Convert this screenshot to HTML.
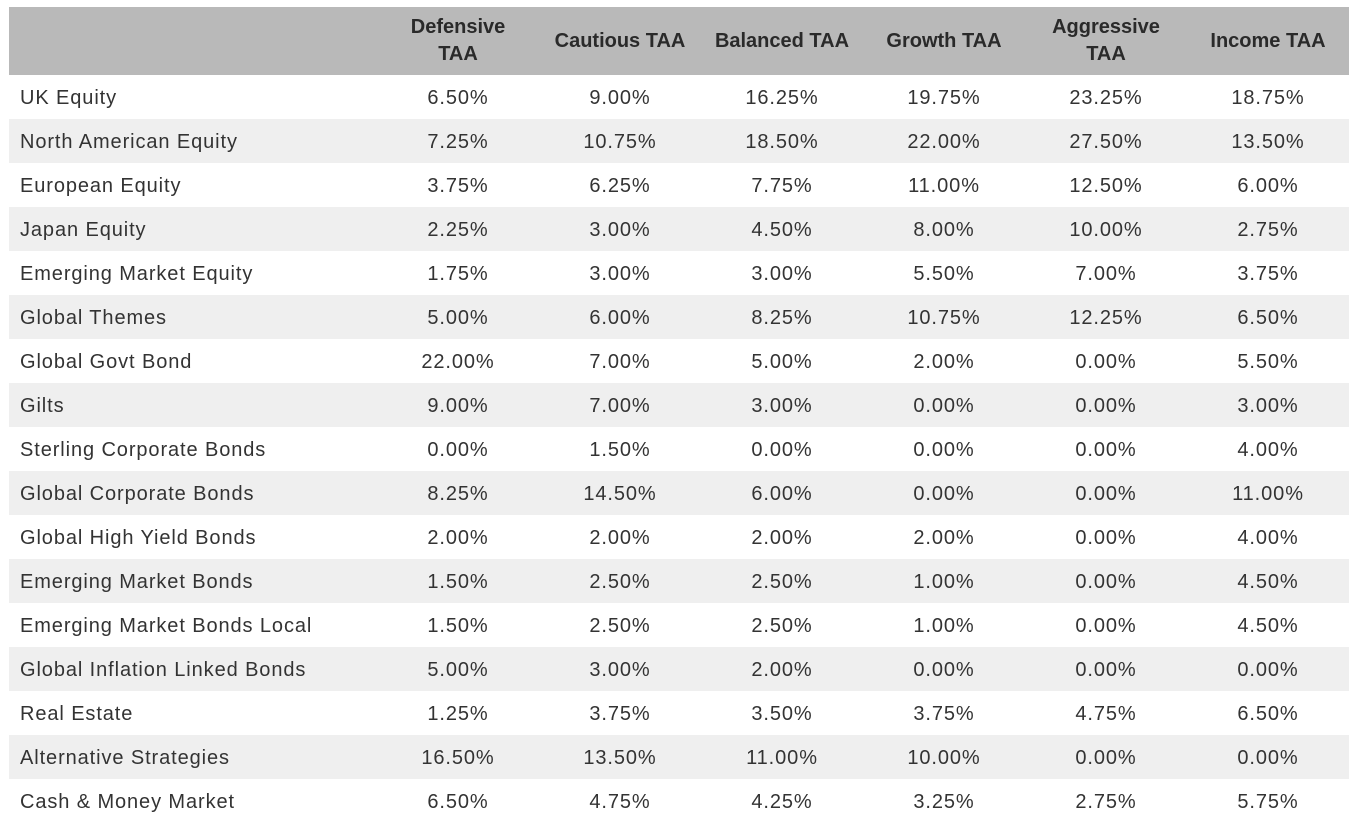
<!DOCTYPE html>
<html><head><meta charset="utf-8"><style>
body{margin:0;background:#fff;width:1355px;height:830px;overflow:hidden;font-family:"Liberation Sans",sans-serif;color:#333}
table{position:absolute;left:9px;top:7px;border-collapse:collapse;table-layout:fixed;width:1340px}
th{background:#b9b9b9;height:68px;font-weight:bold;font-size:20px;line-height:27px;color:#2a2a2a;padding:0;text-align:center}
td{height:44px;padding:0;padding-top:2px;box-sizing:border-box;font-size:20px;text-align:center;letter-spacing:0.9px}
td:first-child{text-align:left;padding-left:11px}
tr.s td{background:#efefef}
</style></head><body>
<table>
<colgroup><col style="width:368px"><col style="width:162px"><col style="width:162px"><col style="width:162px"><col style="width:162px"><col style="width:162px"><col style="width:162px"></colgroup>
<thead><tr><th></th><th>Defensive<br>TAA</th><th>Cautious TAA</th><th>Balanced TAA</th><th>Growth TAA</th><th>Aggressive<br>TAA</th><th>Income TAA</th></tr></thead>
<tbody>
<tr><td>UK Equity</td><td>6.50%</td><td>9.00%</td><td>16.25%</td><td>19.75%</td><td>23.25%</td><td>18.75%</td></tr>
<tr class="s"><td>North American Equity</td><td>7.25%</td><td>10.75%</td><td>18.50%</td><td>22.00%</td><td>27.50%</td><td>13.50%</td></tr>
<tr><td>European Equity</td><td>3.75%</td><td>6.25%</td><td>7.75%</td><td>11.00%</td><td>12.50%</td><td>6.00%</td></tr>
<tr class="s"><td>Japan Equity</td><td>2.25%</td><td>3.00%</td><td>4.50%</td><td>8.00%</td><td>10.00%</td><td>2.75%</td></tr>
<tr><td>Emerging Market Equity</td><td>1.75%</td><td>3.00%</td><td>3.00%</td><td>5.50%</td><td>7.00%</td><td>3.75%</td></tr>
<tr class="s"><td>Global Themes</td><td>5.00%</td><td>6.00%</td><td>8.25%</td><td>10.75%</td><td>12.25%</td><td>6.50%</td></tr>
<tr><td>Global Govt Bond</td><td>22.00%</td><td>7.00%</td><td>5.00%</td><td>2.00%</td><td>0.00%</td><td>5.50%</td></tr>
<tr class="s"><td>Gilts</td><td>9.00%</td><td>7.00%</td><td>3.00%</td><td>0.00%</td><td>0.00%</td><td>3.00%</td></tr>
<tr><td>Sterling Corporate Bonds</td><td>0.00%</td><td>1.50%</td><td>0.00%</td><td>0.00%</td><td>0.00%</td><td>4.00%</td></tr>
<tr class="s"><td>Global Corporate Bonds</td><td>8.25%</td><td>14.50%</td><td>6.00%</td><td>0.00%</td><td>0.00%</td><td>11.00%</td></tr>
<tr><td>Global High Yield Bonds</td><td>2.00%</td><td>2.00%</td><td>2.00%</td><td>2.00%</td><td>0.00%</td><td>4.00%</td></tr>
<tr class="s"><td>Emerging Market Bonds</td><td>1.50%</td><td>2.50%</td><td>2.50%</td><td>1.00%</td><td>0.00%</td><td>4.50%</td></tr>
<tr><td>Emerging Market Bonds Local</td><td>1.50%</td><td>2.50%</td><td>2.50%</td><td>1.00%</td><td>0.00%</td><td>4.50%</td></tr>
<tr class="s"><td>Global Inflation Linked Bonds</td><td>5.00%</td><td>3.00%</td><td>2.00%</td><td>0.00%</td><td>0.00%</td><td>0.00%</td></tr>
<tr><td>Real Estate</td><td>1.25%</td><td>3.75%</td><td>3.50%</td><td>3.75%</td><td>4.75%</td><td>6.50%</td></tr>
<tr class="s"><td>Alternative Strategies</td><td>16.50%</td><td>13.50%</td><td>11.00%</td><td>10.00%</td><td>0.00%</td><td>0.00%</td></tr>
<tr><td>Cash &amp; Money Market</td><td>6.50%</td><td>4.75%</td><td>4.25%</td><td>3.25%</td><td>2.75%</td><td>5.75%</td></tr>
</tbody></table>
</body></html>
